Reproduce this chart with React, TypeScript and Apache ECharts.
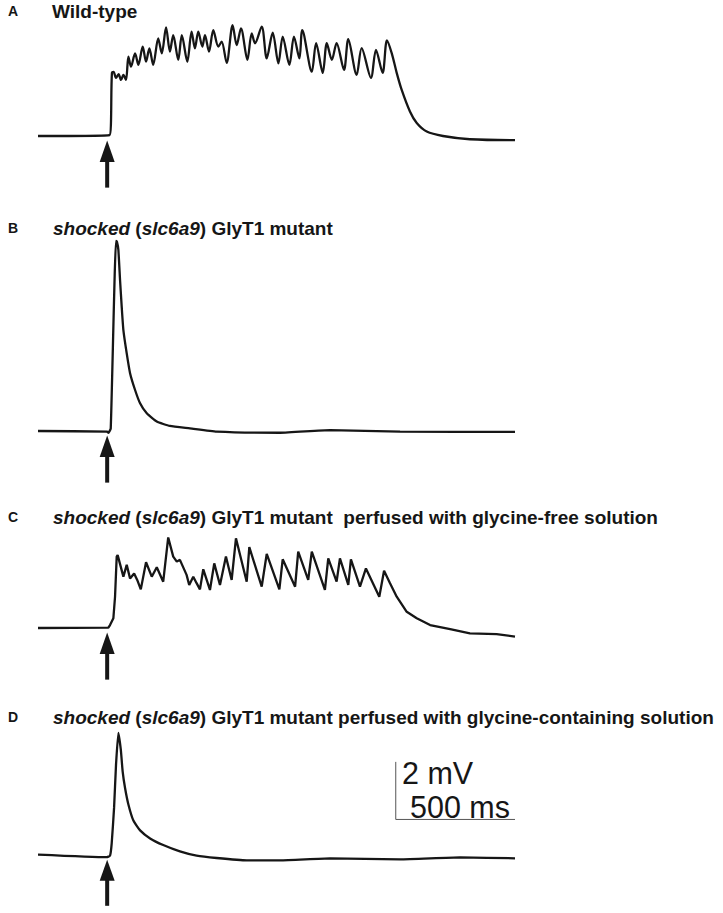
import React, { useEffect, useRef } from "react";
import * as echarts from "echarts";

// time (ms) from start of sweep, membrane potential (mV) relative to resting level
const timeRange: [number, number] = [0, 2000];

const traceA: [number, number][] = [
  [0, 0], [300, 0.03], [310, 2.14], [317, 2.17], [327, 1.97], [338, 2.1], [348, 1.9], [358, 2.07], [369, 1.9],
  [379, 2.69], [390, 2.35], [407, 2.8], [421, 2.41], [439, 3.03], [453, 2.52], [467, 2.97], [483, 2.41],
  [504, 3.31], [519, 2.8], [537, 3.68], [553, 2.86], [567, 3.42], [588, 2.58], [603, 3.42], [626, 2.52],
  [644, 3.54], [658, 2.97], [672, 3.54], [689, 3.03], [700, 3.42], [717, 2.86], [735, 3.59], [756, 3.03],
  [770, 3.2], [791, 2.48], [816, 3.76], [833, 3.08], [851, 3.65], [878, 2.58], [896, 3.48], [910, 3.14],
  [938, 3.71], [959, 2.63], [984, 3.5], [1008, 2.46], [1026, 3.37], [1054, 2.41], [1073, 3.37], [1096, 2.63],
  [1108, 3.59], [1148, 2.18], [1166, 3.15], [1194, 2.14], [1211, 3.15], [1232, 2.58], [1252, 3.15], [1283, 2.24],
  [1301, 3.28], [1336, 2.07], [1357, 2.98], [1396, 1.97], [1417, 2.92], [1445, 2.14], [1463, 3.24], [1483, 2.81],
  [1504, 2.14], [1525, 1.56], [1560, 0.82], [1588, 0.44], [1630, 0.15], [1698, 0.0], [1811, -0.11], [2000, -0.14],
];

const traceB: [number, number][] = [
  [0, 0], [290, -0.02], [295, -0.06], [305, 0.09], [327, 6.44], [331, 6.41], [337, 6.14], [344, 5.12],
  [351, 4.21], [358, 3.42], [372, 2.63], [386, 1.96], [407, 1.39], [428, 0.94], [456, 0.6], [498, 0.32],
  [553, 0.17], [637, 0.09], [749, -0.02], [1015, -0.06], [1224, 0.03], [1518, -0.02], [2000, -0.03],
];

const traceC: [number, number][] = [
  [0, 0], [295, 0.01], [302, 0.1], [316, 0.33], [323, 1.06], [330, 2.42], [334, 2.47], [358, 1.74], [372, 2.14],
  [386, 1.68], [403, 1.85], [416, 1.63], [431, 1.31], [453, 2.23], [477, 1.74], [498, 2.06], [525, 1.57],
  [546, 3.07], [567, 2.42], [582, 2.25], [595, 2.31], [623, 1.8], [634, 1.46], [651, 1.74], [665, 1.52],
  [679, 1.31], [693, 1.99], [721, 1.29], [739, 2.19], [763, 1.46], [788, 2.42], [812, 1.63], [830, 3.04],
  [875, 1.57], [886, 2.74], [938, 1.4], [959, 2.51], [1012, 1.31], [1026, 2.33], [1078, 1.4], [1091, 2.59],
  [1133, 1.63], [1148, 2.59], [1203, 1.29], [1217, 2.36], [1252, 1.57], [1266, 2.36], [1301, 1.46], [1312, 2.33],
  [1350, 1.4], [1375, 2.02], [1431, 1.06], [1451, 1.94], [1476, 1.52], [1504, 1.06], [1546, 0.55], [1588, 0.33],
  [1644, 0.1], [1728, -0.04], [1811, -0.18], [1923, -0.21], [2000, -0.29],
];

const traceD: [number, number][] = [
  [0, 0.03], [288, -0.06], [302, -0.01], [309, 0.42], [319, 1.66], [327, 3.13], [337, 4.26], [347, 3.69],
  [355, 2.91], [365, 2.34], [379, 1.77], [400, 1.21], [428, 0.87], [470, 0.59], [525, 0.36], [595, 0.14],
  [665, -0.01], [749, -0.09], [875, -0.17], [1015, -0.17], [1224, -0.1], [1518, -0.14], [1769, -0.07], [2000, -0.1],
];

// stimulus arrow: time, tip, head base, tail (mV)
const stimulusArrow: [number, number, number, number][] = [[290, -0.15, -0.88, -1.75]];

// scale bar: 2 mV vertical, 500 ms horizontal
const scaleBar: [number, number][] = [[1500, 3.25], [1500, 1.25], [2000, 1.25]];
const scaleLabels = ["2 mV", "500 ms"];

const panelLetters = ["A", "B", "C", "D"];
const panelTitles = [
  "Wild-type",
  "{i|shocked} ({i|slc6a9}) GlyT1 mutant",
  "{i|shocked} ({i|slc6a9}) GlyT1 mutant  perfused with glycine-free solution",
  "{i|shocked} ({i|slc6a9}) GlyT1 mutant perfused with glycine-containing solution",
];

const traces = [traceA, traceB, traceC, traceD];
const smoothing = [0.3, 0.15, 0, 0.15];

const panels = [
  { top: 18, height: 177, yMin: -2, yMax: 4, titleY: 11 },
  { top: 224.5, height: 265.5, yMin: -2, yMax: 7, titleY: 228 },
  { top: 510, height: 177, yMin: -2, yMax: 4, titleY: 517 },
  { top: 711.5, height: 206.5, yMin: -2, yMax: 5, titleY: 717 },
];

const FONT = "'Liberation Sans', Arial, Helvetica, sans-serif";
const INK = "#161616";
const TITLE_SIZE = 19;

export default function App() {
  const ref = useRef<HTMLDivElement>(null);

  useEffect(() => {
    if (!ref.current) return;
    const chart = echarts.init(ref.current, undefined, { renderer: "svg" });

    const grid = panels.map((p) => ({ left: 38, width: 477, top: p.top, height: p.height, containLabel: false }));
    const xAxis = panels.map((_, i) => ({ type: "value", gridIndex: i, min: timeRange[0], max: timeRange[1], show: false }));
    const yAxis = panels.map((p, i) => ({ type: "value", gridIndex: i, min: p.yMin, max: p.yMax, show: false }));

    const series: any[] = [];
    traces.forEach((tr, i) => {
      series.push({
        type: "line",
        xAxisIndex: i,
        yAxisIndex: i,
        data: tr,
        showSymbol: false,
        symbol: "none",
        smooth: smoothing[i],
        lineStyle: { color: INK, width: 2.3 },
        silent: true,
      });
      series.push({
        type: "custom",
        xAxisIndex: i,
        yAxisIndex: i,
        data: stimulusArrow,
        encode: { x: 0, y: [1, 2, 3] },
        clip: false,
        silent: true,
        renderItem: (_params: any, api: any) => {
          const t = api.value(0);
          const tip = api.coord([t, api.value(1)]);
          const base = api.coord([t, api.value(2)]);
          const tail = api.coord([t, api.value(3)]);
          return {
            type: "group",
            children: [
              {
                type: "polygon",
                shape: { points: [[tip[0], tip[1]], [base[0] - 7.5, base[1]], [base[0] + 7.5, base[1]]] },
                style: { fill: INK },
              },
              {
                type: "rect",
                shape: { x: base[0] - 2, y: base[1] - 1, width: 4, height: tail[1] - base[1] + 1 },
                style: { fill: INK },
              },
            ],
          };
        },
      });
    });

    series.push({
      type: "line",
      xAxisIndex: 3,
      yAxisIndex: 3,
      data: scaleBar,
      showSymbol: false,
      symbol: "none",
      lineStyle: { color: "#555", width: 1 },
      silent: true,
    });

    const graphic: any[] = [];
    panels.forEach((p, i) => {
      graphic.push({
        type: "text",
        x: 8,
        y: p.titleY,
        style: {
          text: panelLetters[i],
          fill: INK,
          fontFamily: FONT,
          fontWeight: "bold",
          fontSize: 14,
          verticalAlign: "middle",
          textVerticalAlign: "middle",
        },
      });
      graphic.push({
        type: "text",
        x: i === 0 ? 52 : 53,
        y: p.titleY,
        style: {
          text: panelTitles[i],
          fill: INK,
          fontFamily: FONT,
          fontWeight: "bold",
          fontSize: TITLE_SIZE,
          verticalAlign: "middle",
          textVerticalAlign: "middle",
          rich: {
            i: { fontFamily: FONT, fontWeight: "bold", fontStyle: "italic", fontSize: TITLE_SIZE, fill: INK, color: INK },
          },
        },
      });
    });
    graphic.push({
      type: "text",
      x: 402,
      y: 773,
      style: { text: scaleLabels[0], fill: INK, fontFamily: FONT, fontSize: 30.5, verticalAlign: "middle", textVerticalAlign: "middle" },
    });
    graphic.push({
      type: "text",
      x: 410,
      y: 807,
      style: { text: scaleLabels[1], fill: INK, fontFamily: FONT, fontSize: 30.5, verticalAlign: "middle", textVerticalAlign: "middle" },
    });

    chart.setOption({
      animation: false,
      backgroundColor: "#ffffff",
      grid,
      xAxis,
      yAxis,
      series,
      graphic,
    } as any);

    return () => chart.dispose();
  }, []);

  return (
    <div
      ref={ref}
      style={{ position: "absolute", left: 0, top: 0, width: 723, height: 913, background: "#fff" }}
    />
  );
}
